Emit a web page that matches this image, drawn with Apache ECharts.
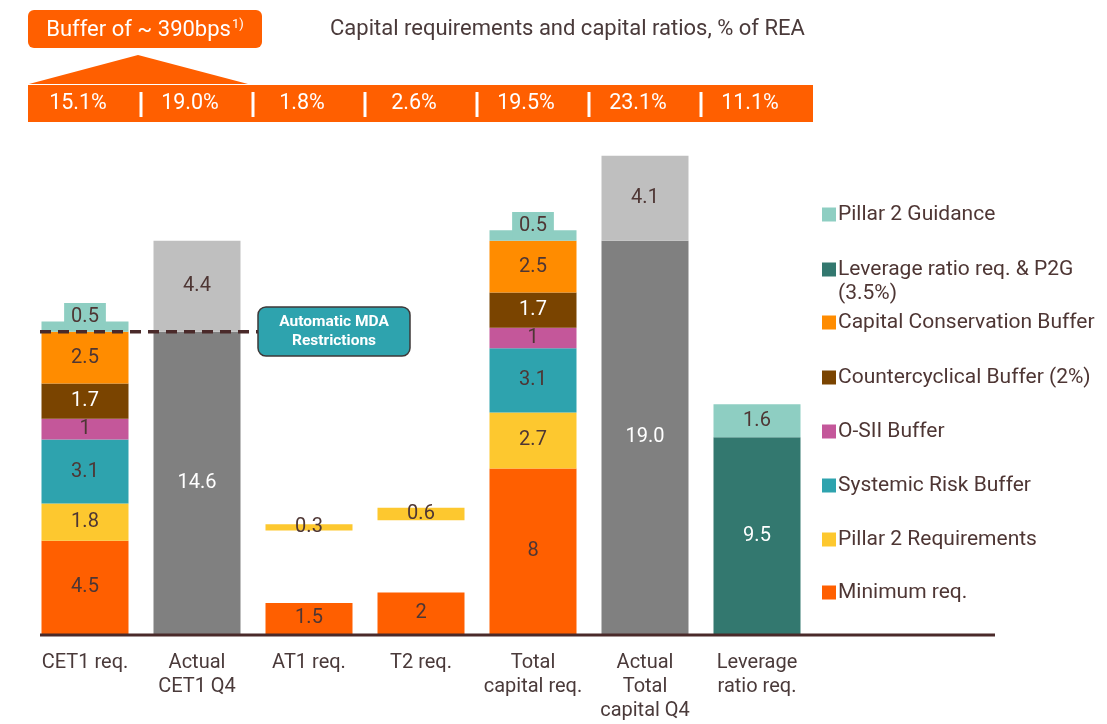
<!DOCTYPE html>
<html><head><meta charset="utf-8">
<script src="https://cdn.jsdelivr.net/npm/echarts@6/dist/echarts.min.js"></script>
<style>html,body{margin:0;padding:0;background:#fff}#c{width:1107px;height:724px}</style>
</head><body><div id="c"></div>
<script>
const categories = ['CET1 req.','Actual\nCET1 Q4','AT1 req.','T2 req.','Total\ncapital req.','Actual\nTotal\ncapital Q4','Leverage\nratio req.'];
const minimumReq      = [4.5, '-', 1.5, 2,   8,   '-', '-'];
const gapBase         = ['-', '-', 3.5, 3.5, '-', '-', '-'];
const pillar2Req      = [1.8, '-', 0.3, 0.6, 2.7, '-', '-'];
const systemicRisk    = [3.1, '-', '-', '-', 3.1, '-', '-'];
const osii            = [1,   '-', '-', '-', 1,   '-', '-'];
const countercyclical = [1.7, '-', '-', '-', 1.7, '-', '-'];
const conservation    = [2.5, '-', '-', '-', 2.5, '-', '-'];
const actualCapital   = ['-', 14.6, '-', '-', '-', 19.0, '-'];
const actualBuffer    = ['-', 4.4, '-', '-', '-', 4.1, '-'];
const leverageReq     = ['-', '-', '-', '-', '-', '-', 9.5];
const pillar2Guidance = [0.5, '-', '-', '-', 0.5, '-', 1.6];
const bannerLabels = ['15.1%','19.0%','1.8%','2.6%','19.5%','23.1%','11.1%'];
const legendNames = ['Pillar 2 Guidance','Leverage ratio req. & P2G','Capital Conservation Buffer','Countercyclical Buffer (2%)','O-SII Buffer','Systemic Risk Buffer','Pillar 2 Requirements','Minimum req.'];
const mdaLevel = 14.6;

const FONT = 'Roboto';
const DARK = '#4e3634';
function lbl(color){
  return {show:true, position:'inside', color:color, fontSize:20, fontFamily:FONT,
    formatter:p=>String(p.value)};
}
function s(name, data, color, labelColor, extra){
  return Object.assign({name, type:'bar', stack:'a', data, barWidth:87,
    itemStyle:{color}, label:lbl(labelColor)}, extra||{});
}
const p2gData = pillar2Guidance.map((v,i)=> (i===6||v==='-') ? v : {value:v,
  label:{backgroundColor:'#8ECEC2', padding:[5,7,2,7], lineHeight:21, offset:[0,-9.5]}});

const option = {
  animation:false,
  grid:{left:29, width:784, top:116.5, bottom:90},
  xAxis:{type:'category', data:categories, axisLine:{show:false}, axisTick:{show:false},
    axisLabel:{color:'#4a3a3a', fontSize:20, fontFamily:FONT, lineHeight:24, margin:17, interval:0}},
  yAxis:{type:'value', min:0, max:25, show:false, splitLine:{show:false}},
  legend: legendNames.map((n,i)=>({data:[n], left:817, top:[199,254,307,362,416,470,524,577][i],
    itemWidth:14, itemHeight:14, icon:'rect', itemGap:0, selectedMode:false,
    textStyle:{color:'#4e3634', fontSize:21, fontFamily:FONT, padding:[0,0,0,-3]}})),
  series:[
    s('Minimum req.', minimumReq, '#FF5F00', DARK),
    {name:'gap', type:'bar', stack:'a', data:gapBase, barWidth:87, itemStyle:{color:'rgba(0,0,0,0)'}, silent:true},
    s('Pillar 2 Requirements', pillar2Req, '#FDC82F', DARK),
    s('Systemic Risk Buffer', systemicRisk, '#2EA3AE', DARK),
    s('O-SII Buffer', osii, '#C4579A', DARK),
    s('Countercyclical Buffer (2%)', countercyclical, '#7A4400', '#ffffff'),
    s('Capital Conservation Buffer', conservation, '#FF8C00', DARK),
    s('Actual', actualCapital, '#808080', '#ffffff', {label:Object.assign(lbl('#ffffff'),{formatter:p=>Number(p.value).toFixed(1)})}),
    s('Actual buffer', actualBuffer, '#BFBFBF', DARK, {label:Object.assign(lbl(DARK),{formatter:p=>Number(p.value).toFixed(1)})}),
    s('Leverage ratio req. & P2G', leverageReq, '#33786F', '#ffffff'),
    s('Pillar 2 Guidance', p2gData, '#8ECEC2', DARK)
  ]
};
const chart = echarts.init(document.getElementById('c'));
chart.setOption(option);

const xs = categories.map((c,i)=>chart.convertToPixel({xAxisIndex:0}, i));
const step = xs[1]-xs[0];
const yMda = chart.convertToPixel({yAxisIndex:0}, mdaLevel);
const yBase = chart.convertToPixel({yAxisIndex:0}, 0);
const bLeft = xs[0]-step/2, bRight = xs[xs.length-1]+step/2;
const g = [];
g.push({type:'rect', z:100, shape:{x:28, y:10, width:234, height:38, r:6}, style:{fill:'#FF5F00'}});
g.push({type:'text', z:101, x:145, y:30, style:{text:'{a|Buffer of ~ 390bps}{b|1)}', align:'center', verticalAlign:'middle',
  rich:{a:{fill:'#fff', fontSize:22, fontFamily:FONT}, b:{fill:'#fff', fontSize:13, fontFamily:FONT, verticalAlign:'top', padding:[0,0,11,1]}}}});
g.push({type:'polygon', z:100, shape:{points:[[bLeft,84],[138,55],[248,84]]}, style:{fill:'#FF5F00'}});
g.push({type:'rect', z:100, shape:{x:bLeft-1, y:85, width:bRight-bLeft+1, height:37}, style:{fill:'#FF5F00'}});
bannerLabels.forEach((t,i)=>{
  g.push({type:'text', z:101, x:xs[i]-7, y:104, style:{text:t, fill:'#fff', fontSize:21.5, fontFamily:FONT, align:'center', verticalAlign:'middle'}});
  if(i<bannerLabels.length-1) g.push({type:'line', z:101, shape:{x1:xs[i]+step/2, y1:92, x2:xs[i]+step/2, y2:117}, style:{stroke:'#fff', lineWidth:3}});
});
g.push({type:'text', z:101, x:330, y:29, style:{text:'Capital requirements and capital ratios, % of REA', fill:'#4a3a3a', fontSize:22, fontFamily:FONT, verticalAlign:'middle'}});
g.push({type:'line', z:100, shape:{x1:40, y1:yMda, x2:258, y2:yMda}, style:{stroke:'#4a2a2a', lineWidth:3.5, lineDash:[11,7]}});
g.push({type:'rect', z:100, shape:{x:258, y:307, width:152, height:49, r:8}, style:{fill:'#2EA3AE', stroke:'#3e3838', lineWidth:1.5}});
g.push({type:'text', z:101, x:334, y:331.5, style:{text:'Automatic MDA\nRestrictions', fill:'#fff', fontSize:15.5, fontWeight:'bold', fontFamily:FONT, lineHeight:19, align:'center', verticalAlign:'middle'}});
g.push({type:'line', z:100, shape:{x1:40, y1:yBase+1, x2:995, y2:yBase+1}, style:{stroke:'#4a2a2a', lineWidth:3}});
g.push({type:'text', z:101, x:838, y:294, style:{text:'(3.5%)', fill:'#4e3634', fontSize:21, fontFamily:FONT, verticalAlign:'middle'}});
chart.setOption({graphic:g});
</script></body></html>
